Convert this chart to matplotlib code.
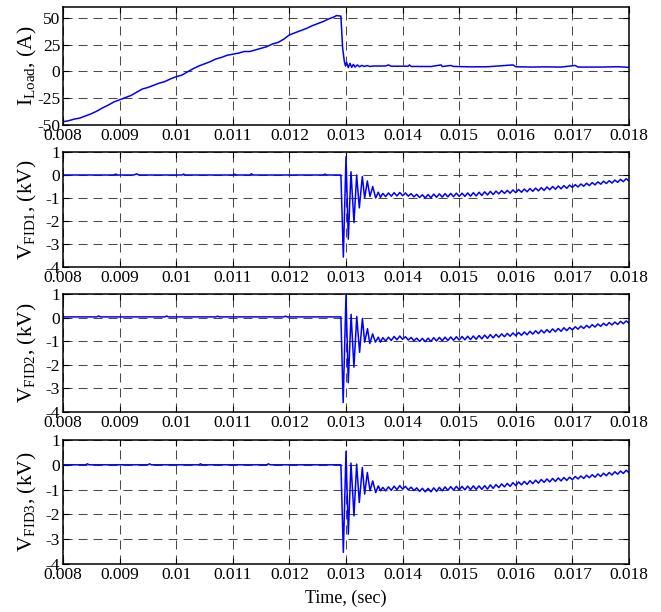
"""Load current and FID voltages around the fault instant (4 stacked traces)."""
import numpy as np
import matplotlib
matplotlib.use('Agg')
from matplotlib import pyplot as plt

# ---- values ----
time_ticks = [0.008, 0.009, 0.010, 0.011, 0.012, 0.013,
              0.014, 0.015, 0.016, 0.017, 0.018]
time_labels = ['0.008', '0.009', '0.01', '0.011', '0.012', '0.013',
               '0.014', '0.015', '0.016', '0.017', '0.018']
iload_ticks = [-50, -25, 0, 25, 50]
fid_ticks = [-4, -3, -2, -1, 0, 1]

# load current, A
iload_t = [0.0080, 0.0081, 0.0082, 0.0083, 0.0084, 0.0085, 0.0086, 0.0087,
           0.0088, 0.0089, 0.0090, 0.0091, 0.0092, 0.0093, 0.0094, 0.0095,
           0.0096, 0.0097, 0.0098, 0.0099, 0.0100, 0.0101, 0.0102, 0.0103,
           0.0104, 0.0105, 0.0106, 0.0107, 0.0108, 0.0109, 0.0110, 0.0111,
           0.0112, 0.0113, 0.0114, 0.0115, 0.0116, 0.0117, 0.0118, 0.0119,
           0.0120, 0.0121, 0.0122, 0.0123, 0.0124, 0.0125, 0.0126, 0.0127,
           0.0128, 0.01283, 0.01291, 0.01294, 0.01297, 0.01299, 0.01301,
           0.01304, 0.01307, 0.0131, 0.01313, 0.01316, 0.0132, 0.01324,
           0.01328, 0.01332, 0.01337, 0.01342, 0.0135, 0.0137, 0.01375,
           0.0138, 0.0141, 0.01412, 0.01415, 0.0145, 0.01468, 0.0147,
           0.01485, 0.0149, 0.0152, 0.0155, 0.01595, 0.016, 0.0163, 0.0165,
           0.0168, 0.01705, 0.0171, 0.0175, 0.0178, 0.018]
iload_a = [-47.0, -46.0, -44.5, -43.5, -41.5, -39.5, -37.0, -34.0,
           -31.5, -28.5, -26.5, -24.5, -22.5, -19.5, -16.5, -15.0,
           -13.0, -11.0, -9.5, -7.0, -5.0, -3.5, -0.5, 2.5,
           5.0, 7.0, 9.0, 11.5, 13.0, 15.0, 16.0, 17.0,
           18.5, 18.5, 20.0, 21.5, 23.0, 25.5, 27.0, 30.0,
           34.0, 36.0, 38.0, 40.0, 42.5, 44.5, 46.5, 49.0,
           51.0, 52.0, 51.5, 22.0, 9.5, 5.0, 8.5,
           3.5, 7.5, 3.8, 6.5, 4.0, 6.0, 4.3,
           5.6, 4.5, 5.4, 4.6, 5.0, 5.0, 6.0,
           4.8, 4.8, 6.0, 4.6, 4.5, 6.0, 4.5,
           5.5, 4.6, 4.2, 4.3, 6.0, 4.3, 4.0, 4.2,
           4.0, 5.5, 4.0, 4.0, 4.3, 3.8]

# FID voltages before and during the fault transient, kV
fid1_t = [0.008, 0.0089, 0.00893, 0.00896, 0.00925, 0.0093, 0.00935,
          0.0101, 0.01013, 0.01016, 0.011, 0.01103, 0.01106, 0.0113,
          0.01133, 0.01136, 0.0126, 0.01263, 0.01266, 0.01291,
          0.012953, 0.013, 0.013041, 0.013088, 0.013141, 0.013188,
          0.013235, 0.013288, 0.01333, 0.013377, 0.013424, 0.013472,
          0.013525, 0.01357, 0.01361]
fid1_v = [0.0, 0.0, 0.04, 0.0, 0.0, 0.05, 0.0,
          0.0, 0.04, 0.0, 0.0, 0.04, 0.0, 0.0,
          0.05, 0.0, 0.0, 0.04, 0.0, 0.0,
          -3.57, 0.79, -2.79, 0.14, -2.07, 0.0,
          -1.43, -0.07, -1.0, -0.26, -0.93, -0.5,
          -1.0, -0.75, -0.97]

fid2_t = [0.008, 0.0086, 0.00863, 0.00866, 0.0098, 0.00983, 0.00986,
          0.0107, 0.01073, 0.01076, 0.0119, 0.01193, 0.01196, 0.01291,
          0.01295, 0.013, 0.01304, 0.01309, 0.01314, 0.01319,
          0.01324, 0.01329, 0.01333, 0.01338, 0.01342, 0.01347,
          0.01352, 0.01357, 0.01361]
fid2_v = [0.03, 0.03, 0.07, 0.03, 0.03, 0.07, 0.03,
          0.03, 0.06, 0.03, 0.03, 0.06, 0.03, 0.03,
          -3.6, 0.95, -2.76, 0.14, -2.1, 0.05,
          -1.47, -0.04, -1.04, -0.47, -1.1, -0.69,
          -1.04, -0.83, -1.04]

fid3_t = [0.008, 0.0084, 0.00843, 0.00846, 0.0095, 0.00953, 0.00956,
          0.0104, 0.01043, 0.01046, 0.0116, 0.01163, 0.01166, 0.01291,
          0.012953, 0.013, 0.013041, 0.013088, 0.013141, 0.013188,
          0.013235, 0.013288, 0.01333, 0.013377, 0.013424, 0.013472,
          0.013525, 0.01357, 0.01361]
fid3_v = [0.0, 0.0, 0.04, 0.0, 0.0, 0.04, 0.0,
          0.0, 0.04, 0.0, 0.0, 0.04, 0.0, 0.0,
          -3.53, 0.54, -2.8, 0.07, -2.06, 0.03,
          -1.52, -0.11, -1.18, -0.31, -1.05, -0.65,
          -1.12, -0.85, -1.05]

# post-fault ripple: one peak/trough pair every 0.1 ms starting at 13.65 ms
ripple_start, ripple_period = 0.01365, 0.0001
fid1_hi = [-0.80, -0.78, -0.77, -0.76, -0.78, -0.81, -0.84, -0.86, -0.85,
           -0.83, -0.82, -0.81, -0.80, -0.79, -0.79, -0.78, -0.77, -0.75,
           -0.73, -0.71, -0.70, -0.68, -0.67, -0.65, -0.63, -0.61, -0.59,
           -0.57, -0.55, -0.52, -0.50, -0.48, -0.46, -0.44, -0.42, -0.39,
           -0.36, -0.33, -0.30, -0.27, -0.25, -0.22, -0.19, -0.16]
fid1_lo = [-0.94, -0.92, -0.91, -0.90, -0.92, -0.95, -0.98, -1.00, -0.99,
           -0.97, -0.96, -0.95, -0.94, -0.93, -0.93, -0.92, -0.91, -0.89,
           -0.87, -0.85, -0.82, -0.80, -0.79, -0.77, -0.75, -0.73, -0.71,
           -0.69, -0.67, -0.64, -0.62, -0.60, -0.58, -0.54, -0.52, -0.49,
           -0.46, -0.43, -0.40, -0.37, -0.35, -0.32, -0.29, -0.26]
fid2_hi = [-0.85, -0.83, -0.80, -0.78, -0.81, -0.84, -0.87, -0.88, -0.87,
           -0.85, -0.84, -0.83, -0.82, -0.81, -0.80, -0.79, -0.78, -0.76,
           -0.74, -0.72, -0.71, -0.69, -0.67, -0.65, -0.63, -0.61, -0.58,
           -0.56, -0.53, -0.51, -0.48, -0.46, -0.43, -0.42, -0.39, -0.36,
           -0.33, -0.30, -0.27, -0.24, -0.21, -0.19, -0.16, -0.14]
fid2_lo = [-0.99, -0.97, -0.94, -0.92, -0.95, -0.98, -1.01, -1.02, -1.01,
           -0.99, -0.98, -0.97, -0.96, -0.95, -0.94, -0.93, -0.92, -0.90,
           -0.88, -0.86, -0.83, -0.81, -0.79, -0.77, -0.75, -0.73, -0.70,
           -0.68, -0.65, -0.63, -0.60, -0.58, -0.55, -0.52, -0.49, -0.46,
           -0.43, -0.40, -0.37, -0.34, -0.31, -0.29, -0.26, -0.24]
fid3_hi = [-0.91, -0.89, -0.86, -0.84, -0.87, -0.90, -0.93, -0.95, -0.95,
           -0.93, -0.91, -0.89, -0.88, -0.87, -0.87, -0.86, -0.85, -0.85,
           -0.84, -0.81, -0.80, -0.77, -0.75, -0.72, -0.69, -0.67, -0.64,
           -0.62, -0.59, -0.57, -0.55, -0.53, -0.51, -0.50, -0.47, -0.45,
           -0.42, -0.40, -0.37, -0.34, -0.31, -0.28, -0.25, -0.22]
fid3_lo = [-1.05, -1.03, -1.00, -0.98, -1.01, -1.04, -1.07, -1.09, -1.09,
           -1.07, -1.05, -1.03, -1.02, -1.01, -1.01, -1.00, -0.99, -0.99,
           -0.98, -0.95, -0.92, -0.89, -0.87, -0.84, -0.81, -0.79, -0.76,
           -0.74, -0.71, -0.69, -0.67, -0.65, -0.63, -0.60, -0.57, -0.55,
           -0.52, -0.50, -0.47, -0.44, -0.41, -0.38, -0.35, -0.32]


def _with_ripple(t, v, hi, lo):
    """Append the alternating peak/trough samples after the transient."""
    t_hi = ripple_start + ripple_period * np.arange(len(hi))
    t_lo = t_hi + ripple_period / 2
    rt = np.column_stack([t_hi, t_lo]).ravel()
    rv = np.column_stack([hi, lo]).ravel()
    return np.concatenate([t, rt]), np.concatenate([v, rv])


plt.rcParams.update({
    'font.family': ['Liberation Serif', 'DejaVu Serif'],
    'mathtext.fontset': 'custom',
    'mathtext.rm': 'Liberation Serif',
    'axes.unicode_minus': False,
    'lines.scale_dashes': False,
})

fig = plt.figure(figsize=(6.61, 6.12), dpi=100)
W, H = 661.0, 612.0
left, width = 63 / W, 566 / W
# (top, bottom) of each panel in pixels
rows = [(7, 125), (152, 267), (294, 412), (440, 564)]
axes = [fig.add_axes([left, 1 - b / H, width, (b - t) / H]) for t, b in rows]

blue = '#0000ff'
traces = [
    (np.array(iload_t), np.array(iload_a)),
    _with_ripple(fid1_t, fid1_v, fid1_hi, fid1_lo),
    _with_ripple(fid2_t, fid2_v, fid2_hi, fid2_lo),
    _with_ripple(fid3_t, fid3_v, fid3_hi, fid3_lo),
]
ylabels = [r'I$_{\mathregular{Load}}$, (A)',
           r'V$_{\mathregular{FID1}}$, (kV)',
           r'V$_{\mathregular{FID2}}$, (kV)',
           r'V$_{\mathregular{FID3}}$, (kV)']

for i, (ax, (t, v)) in enumerate(zip(axes, traces)):
    ax.plot(t, v, color=blue, lw=1.1)
    ax.set_xlim(0.008, 0.018)
    ax.set_xticks(time_ticks)
    ax.set_xticklabels(time_labels)
    if i == 0:
        ax.set_ylim(-50, 60)
        ax.set_yticks(iload_ticks)
        ax.set_yticklabels([str(y) for y in iload_ticks])
    else:
        ax.set_ylim(-4, 1)
        ax.set_yticks(fid_ticks)
        ax.set_yticklabels([str(y) for y in fid_ticks])
    ax.grid(True, color='#2a2a2a', lw=0.75, alpha=0.85, dashes=(6.5, 4.3))
    ax.tick_params(direction='in', top=True, right=True, length=4,
                   width=0.8, labelsize=12.5, pad=2)
    for side in ax.spines.values():
        side.set_linewidth(1.1)
    ax.set_ylabel(ylabels[i], fontsize=15.5)
    ax.yaxis.set_label_coords(-0.042, 0.5)

axes[-1].set_xlabel('Time, (sec)', fontsize=13, labelpad=5)

fig.savefig('out.png', dpi=100)
